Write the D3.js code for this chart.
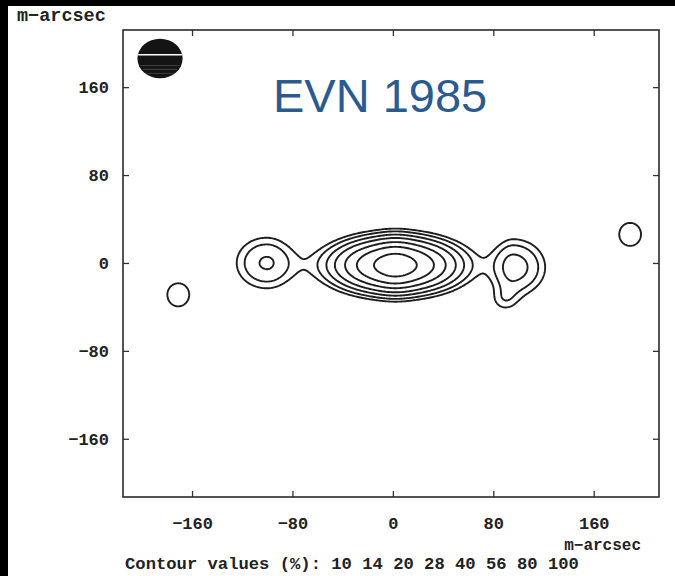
<!DOCTYPE html>
<html><head><meta charset="utf-8">
<script src="https://cdn.jsdelivr.net/npm/d3@7"></script>
<style>body{margin:0;background:#000}svg{display:block}</style>
</head><body>
<svg id="c" width="675" height="576"></svg>
<script>
// ---- data (m-arcsec, % of peak) ----
const xTicks = [-160, -80, 0, 80, 160];
const yTicks = [-160, -80, 0, 80, 160];
const contourLevels = [10, 14, 20, 28, 40, 56, 80, 100];
const contourCaption = "Contour values (%): 10 14 20 28 40 56 80 100";
const axisUnit = "m\u2212arcsec";
const titleText = "EVN 1985";
// brightness components (x, y, peak, width west / east, height)
const compName = ["core-narrow", "core", "west", "east", "east-tail", "blob-sw", "blob-ne"];
const compX   = [2, 2, -101, 96.7, 88, -171, 189];
const compY   = [-2, -2, 0, -4, -35, -29, 26];
const compAmp = [10, 90, 20.5, 23, 8, 13, 13];
const compSXW = [10, 31.5, 19.5, 12.6, 9, 12, 12];
const compSXE = [10, 31.5, 17, 19, 9, 12, 12];
const compSY  = [15.5, 15.5, 19, 19.5, 9, 14.5, 14.5];
// restoring beam
const beamX = [-185.5], beamY = [186], beamRX = [18], beamRY = [18];
const xDomain = [-215, 212], yDomain = [-213, 212];

// ---- layout ----
const svg = d3.select("#c");
const L = 123, R = 659, T = 30, B = 497;
const xs = d3.scaleLinear().domain(xDomain).range([L, R]);
const ys = d3.scaleLinear().domain(yDomain).range([B, T]);
const fmt = d => d < 0 ? "\u2212" + Math.abs(d) : String(d);
const FONT = "'Liberation Mono', 'DejaVu Sans Mono', monospace";
const INK = "#1e1e1e";

svg.append("rect").attr("x", 8).attr("y", 6).attr("width", 667).attr("height", 570).attr("fill", "#fff");

// ---- field ----
const step = 1;
const nx = Math.round((xDomain[1] - xDomain[0]) / step) + 1;
const ny = Math.round((yDomain[1] - yDomain[0]) / step) + 1;
const vals = new Float64Array(nx * ny);
let vmax = 0;
for (let j = 0; j < ny; j++) {
  const y = yDomain[0] + j * step;
  for (let i = 0; i < nx; i++) {
    const x = xDomain[0] + i * step;
    let s = 0;
    for (let k = 0; k < compX.length; k++) {
      const sx = x < compX[k] ? compSXW[k] : compSXE[k];
      const dx = (x - compX[k]) / sx, dy = (y - compY[k]) / compSY[k];
      s += compAmp[k] * Math.exp(-0.5 * (dx * dx + dy * dy));
    }
    vals[j * nx + i] = s;
    if (s > vmax) vmax = s;
  }
}
for (let i = 0; i < vals.length; i++) vals[i] = vals[i] / vmax * 99.9;

const contours = d3.contours().size([nx, ny]).thresholds(contourLevels)(vals);
const proj = d3.geoTransform({
  point(px, py) {
    this.stream.point(xs(xDomain[0] + (px - 0.5) * step), ys(yDomain[0] + (py - 0.5) * step));
  }
});
const path = d3.geoPath(proj);

svg.append("clipPath").attr("id", "clip").append("rect")
  .attr("x", L).attr("y", T).attr("width", R - L).attr("height", B - T);

svg.append("g").attr("clip-path", "url(#clip)")
  .selectAll("path").data(contours).join("path")
  .attr("d", path).attr("fill", "none")
  .attr("stroke", INK).attr("stroke-width", 1.9).attr("stroke-linejoin", "round");

// ---- beam ----
const beam = svg.append("g");
beam.selectAll("ellipse").data(beamX).join("ellipse")
  .attr("cx", d => xs(d)).attr("cy", (d, i) => ys(beamY[i]))
  .attr("rx", (d, i) => xs(beamRX[i]) - xs(0)).attr("ry", (d, i) => ys(0) - ys(beamRY[i]))
  .attr("fill", "#141414");
// scan-line hatching of the beam
const hatch = [-0.35, -0.55, -0.75];
beamX.forEach((bx, i) => {
  hatch.forEach(f => {
    const hw = beamRX[i] * Math.sqrt(1 - f * f) * 0.92;
    beam.append("line")
      .attr("x1", xs(bx - hw)).attr("x2", xs(bx + hw))
      .attr("y1", ys(beamY[i] + f * beamRY[i])).attr("y2", ys(beamY[i] + f * beamRY[i]))
      .attr("stroke", "#4a4a4a").attr("stroke-width", 0.8);
  });
});
beam.selectAll("line.w").data(beamX).join("line").attr("class", "w")
  .attr("x1", (d, i) => xs(d - beamRX[i] * 0.97)).attr("x2", (d, i) => xs(d + beamRX[i] * 0.97))
  .attr("y1", (d, i) => ys(beamY[i] + 3.5)).attr("y2", (d, i) => ys(beamY[i] + 3.5))
  .attr("stroke", "#fff").attr("stroke-width", 1.6);

// ---- axes ----
const gB = svg.append("g").attr("transform", `translate(0,${B})`)
  .call(d3.axisBottom(xs).tickValues(xTicks).tickSize(-6).tickSizeOuter(0).tickPadding(20).tickFormat(fmt));
const gL = svg.append("g").attr("transform", `translate(${L},0)`)
  .call(d3.axisLeft(ys).tickValues(yTicks).tickSize(-6).tickSizeOuter(0).tickPadding(14).tickFormat(fmt));
const gT = svg.append("g").attr("transform", `translate(0,${T})`)
  .call(d3.axisTop(xs).tickValues(xTicks).tickSize(-6).tickSizeOuter(0).tickFormat(""));
const gR = svg.append("g").attr("transform", `translate(${R},0)`)
  .call(d3.axisRight(ys).tickValues(yTicks).tickSize(-6).tickSizeOuter(0).tickFormat(""));
[gB, gL, gT, gR].forEach(g => {
  g.select(".domain").remove();
  g.selectAll("line").attr("stroke", "#333").attr("stroke-width", 1.3);
  g.selectAll("text").attr("fill", "#222").attr("font-family", FONT)
    .attr("font-size", 17).attr("font-weight", "bold");
});
svg.append("rect").attr("x", L).attr("y", T).attr("width", R - L).attr("height", B - T)
  .attr("fill", "none").attr("stroke", "#2a2a2a").attr("stroke-width", 1.6);

// ---- texts ----
svg.append("text").attr("x", 17).attr("y", 21).text(axisUnit)
  .attr("font-family", FONT).attr("font-size", 18.5).attr("font-weight", "bold").attr("fill", "#222");
svg.append("text").attr("x", 641).attr("y", 550).attr("text-anchor", "end").text(axisUnit)
  .attr("font-family", FONT).attr("font-size", 16).attr("font-weight", "bold").attr("fill", "#222");
svg.append("text").attr("x", 125).attr("y", 569).text(contourCaption)
  .attr("font-family", FONT).attr("font-size", 17.2).attr("font-weight", "bold").attr("fill", "#222");
svg.append("text").attr("x", 273).attr("y", 112).text(titleText)
  .attr("font-family", "'Liberation Sans', Arial, sans-serif").attr("font-size", 47).attr("fill", "#2b5b8e");
</script>
</body></html>
